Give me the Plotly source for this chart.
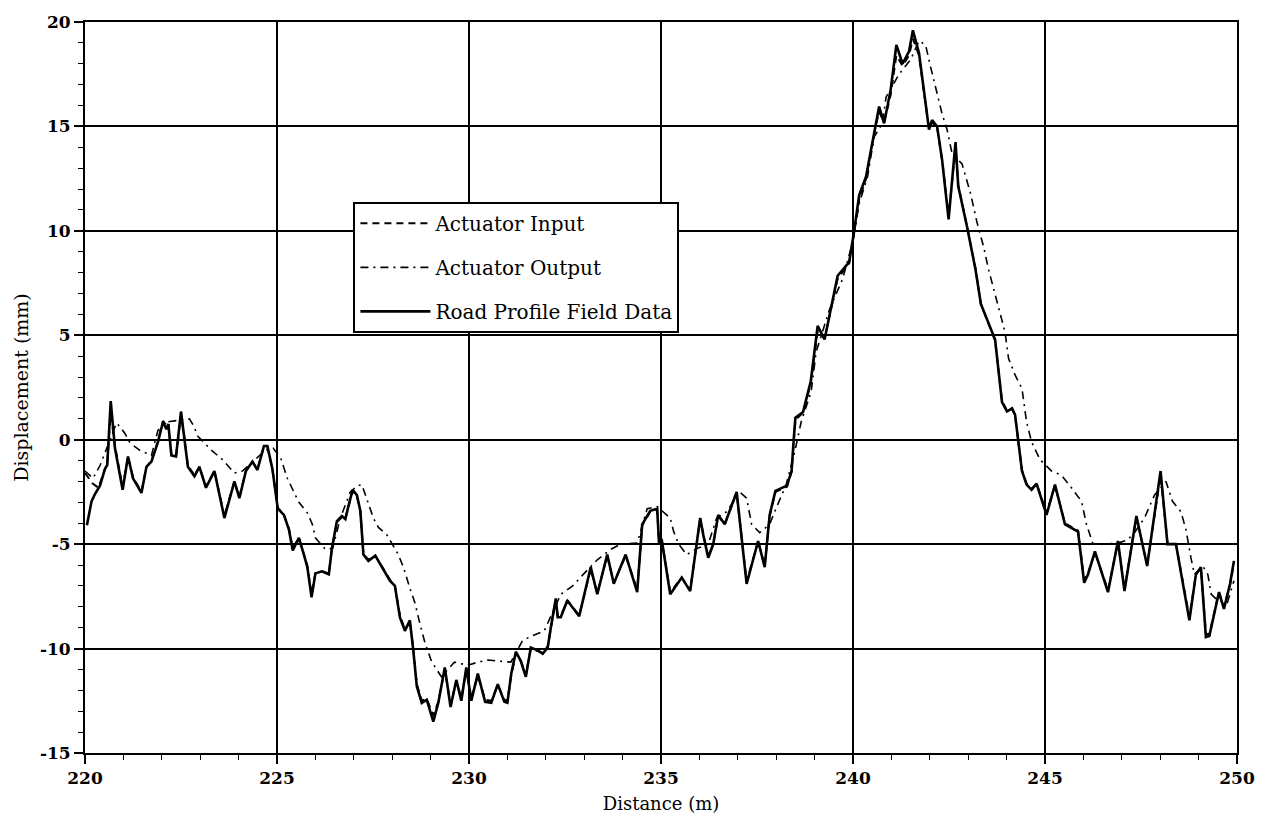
import plotly.graph_objects as go

# Road profile measured in the field (distance m, displacement mm)
road_x = [220.05, 220.17, 220.26, 220.39, 220.52, 220.58, 220.67, 220.73, 220.78, 220.98,
          221.12, 221.25, 221.47, 221.60, 221.73, 221.90, 222.03, 222.12, 222.17, 222.25,
          222.37, 222.50, 222.59, 222.68, 222.85, 222.98, 223.15, 223.37, 223.63, 223.89,
          224.02, 224.19, 224.36, 224.49, 224.66, 224.75, 224.88, 225.02, 225.18, 225.31,
          225.41, 225.57, 225.70, 225.79, 225.90, 226.00, 226.17, 226.35, 226.43, 226.56,
          226.69, 226.78, 226.87, 226.97, 227.08, 227.17, 227.25, 227.38, 227.56, 227.73,
          227.94, 228.07, 228.20, 228.33, 228.46, 228.55, 228.64, 228.77, 228.90, 229.07,
          229.20, 229.37, 229.52, 229.67, 229.80, 229.93, 230.06, 230.23, 230.42, 230.58,
          230.75, 230.92, 231.00, 231.10, 231.22, 231.35, 231.48, 231.61, 231.80, 231.92,
          232.05, 232.13, 232.26, 232.31, 232.39, 232.56, 232.87, 233.17, 233.34, 233.60,
          233.77, 234.08, 234.38, 234.51, 234.72, 234.90, 234.95, 235.02, 235.24, 235.54,
          235.76, 236.02, 236.10, 236.23, 236.36, 236.49, 236.66, 236.97, 237.23, 237.53,
          237.70, 237.83, 237.98, 238.28, 238.40, 238.46, 238.50, 238.70, 238.90, 239.08,
          239.26, 239.60, 239.90, 240.03, 240.16, 240.34, 240.60, 240.68, 240.81, 240.98,
          241.13, 241.29, 241.46, 241.56, 241.72, 241.85, 241.98, 242.06, 242.19, 242.32,
          242.49, 242.67, 242.74, 242.97, 243.19, 243.33, 243.53, 243.70, 243.88, 244.01,
          244.14, 244.22, 244.40, 244.52, 244.65, 244.78, 245.04, 245.26, 245.52, 245.86,
          246.02, 246.12, 246.30, 246.64, 246.90, 247.07, 247.38, 247.66, 248.01, 248.19,
          248.41, 248.76, 248.93, 249.06, 249.19, 249.28, 249.53, 249.66, 249.82, 249.92]
road_y = [-4.10, -2.95, -2.60, -2.20, -1.40, -1.20, 1.85, 0.40, -0.40, -2.40,
          -0.80, -1.85, -2.55, -1.30, -1.05, -0.10, 0.85, 0.50, 0.75, -0.75,
          -0.80, 1.35, 0.05, -1.30, -1.75, -1.30, -2.30, -1.50, -3.75, -2.00,
          -2.80, -1.50, -1.05, -1.45, -0.30, -0.30, -1.40, -3.30, -3.60, -4.30,
          -5.30, -4.70, -5.50, -6.10, -7.55, -6.40, -6.30, -6.45, -5.20, -3.90,
          -3.65, -3.80, -3.10, -2.40, -2.65, -3.40, -5.50, -5.80, -5.55, -6.10,
          -6.75, -7.00, -8.50, -9.15, -8.65, -10.10, -11.80, -12.60, -12.45, -13.50,
          -12.60, -10.90, -12.80, -11.50, -12.50, -10.90, -12.50, -11.20, -12.55, -12.60,
          -11.70, -12.55, -12.60, -11.20, -10.15, -10.60, -11.35, -9.95, -10.10, -10.25,
          -9.95, -9.00, -7.60, -8.50, -8.50, -7.70, -8.45, -6.10, -7.40, -5.50,
          -6.90, -5.50, -7.30, -4.05, -3.40, -3.30, -5.00, -4.80, -7.40, -6.60,
          -7.25, -3.75, -4.55, -5.65, -5.00, -3.60, -4.05, -2.50, -6.90, -4.85,
          -6.10, -3.60, -2.45, -2.20, -1.50, 0.10, 1.05, 1.33, 2.80, 5.45,
          4.80, 7.85, 8.50, 10.00, 11.70, 12.60, 15.30, 15.95, 15.15, 16.75,
          18.90, 18.00, 18.60, 19.60, 18.50, 16.55, 14.85, 15.30, 15.00, 13.40,
          10.55, 14.25, 12.15, 10.20, 8.15, 6.50, 5.60, 4.80, 1.80, 1.35,
          1.50, 1.20, -1.50, -2.15, -2.40, -2.10, -3.60, -2.15, -4.05, -4.40,
          -6.85, -6.45, -5.35, -7.30, -4.85, -7.25, -3.65, -6.05, -1.50, -5.00,
          -5.00, -8.65, -6.45, -6.10, -9.45, -9.40, -7.30, -8.10, -6.90, -5.80]

# Command signal sent to the actuator
input_x = [220.00, 220.20, 220.35, 220.52, 220.58, 220.67, 220.73, 220.78, 220.98,
           221.12, 221.25, 221.47, 221.60, 221.73, 221.90, 222.03, 222.12, 222.17, 222.25,
           222.37, 222.50, 222.59, 222.68, 222.85, 222.98, 223.15, 223.37, 223.63, 223.89,
           224.02, 224.19, 224.36, 224.49, 224.66, 224.75, 224.88, 225.02, 225.18, 225.31,
           225.41, 225.57, 225.70, 225.79, 225.90, 226.00, 226.17, 226.35, 226.43, 226.56,
           226.69, 226.78, 226.87, 226.97, 227.08, 227.17, 227.25, 227.38, 227.56, 227.73,
           227.94, 228.07, 228.20, 228.33, 228.46, 228.55, 228.64, 228.77, 228.90, 229.07,
           229.20, 229.37, 229.52, 229.67, 229.80, 229.93, 230.06, 230.23, 230.42, 230.58,
           230.75, 230.92, 231.00, 231.10, 231.22, 231.35, 231.48, 231.61, 231.80, 231.92,
           232.05, 232.13, 232.26, 232.31, 232.39, 232.56, 232.87, 233.17, 233.34, 233.60,
           233.77, 234.08, 234.38, 234.51, 234.72, 234.90, 234.95, 235.02, 235.24, 235.54,
           235.76, 236.02, 236.10, 236.23, 236.36, 236.49, 236.66, 236.97, 237.23, 237.53,
           237.70, 237.83, 237.98, 238.28, 238.40, 238.46, 238.50, 238.70, 238.90, 239.08,
           239.26, 239.60, 239.90, 240.03, 240.16, 240.34, 240.60, 240.68, 240.81, 240.98,
           241.13, 241.29, 241.46, 241.56, 241.72, 241.85, 241.98, 242.06, 242.19, 242.32,
           242.49, 242.67, 242.74, 242.97, 243.19, 243.33, 243.53, 243.70, 243.88, 244.01,
           244.14, 244.22, 244.40, 244.52, 244.65, 244.78, 245.04, 245.26, 245.52, 245.86,
           246.02, 246.12, 246.30, 246.64, 246.90, 247.07, 247.38, 247.66, 248.01, 248.19,
           248.41, 248.76, 248.93, 249.06, 249.19, 249.28, 249.53, 249.66, 249.82, 249.92]
input_y = [-1.60, -2.10, -2.30, -1.40, -1.20, 1.50, 0.40, -0.30, -2.30,
           -0.80, -1.80, -2.50, -1.30, -1.00, -0.10, 0.90, 0.70, 0.80, -0.70,
           -0.80, 1.20, 0.10, -1.25, -1.70, -1.30, -2.25, -1.50, -3.65, -2.00,
           -2.75, -1.50, -1.05, -1.40, -0.35, -0.35, -1.40, -3.25, -3.60, -4.25,
           -5.20, -4.70, -5.45, -6.05, -7.40, -6.40, -6.30, -6.40, -5.20, -3.95,
           -3.70, -3.80, -3.15, -2.45, -2.70, -3.40, -5.45, -5.75, -5.55, -6.05,
           -6.70, -7.00, -8.40, -9.10, -8.70, -10.00, -11.70, -12.50, -12.40, -13.20,
           -12.55, -11.00, -12.70, -11.55, -12.40, -11.00, -12.40, -11.30, -12.45, -12.50,
           -11.75, -12.45, -12.50, -11.30, -10.25, -10.60, -11.25, -10.00, -10.10, -10.20,
           -9.90, -9.05, -7.70, -8.45, -8.45, -7.70, -8.40, -6.20, -7.35, -5.55,
           -6.85, -5.55, -7.20, -4.10, -3.45, -3.35, -4.90, -4.80, -7.30, -6.60,
           -7.20, -3.80, -4.55, -5.60, -5.00, -3.65, -4.05, -2.55, -6.80, -4.85,
           -6.05, -3.65, -2.50, -2.25, -1.55, 0.05, 0.95, 1.30, 2.70, 5.20,
           4.85, 7.70, 8.45, 9.90, 11.50, 12.50, 15.10, 15.70, 15.20, 16.50,
           18.40, 17.90, 18.40, 19.20, 18.40, 16.60, 14.90, 15.20, 14.95, 13.40,
           10.70, 14.00, 12.20, 10.20, 8.20, 6.50, 5.60, 4.75, 1.85, 1.40,
           1.50, 1.15, -1.45, -2.10, -2.35, -2.10, -3.50, -2.20, -4.00, -4.35,
           -6.70, -6.40, -5.40, -7.20, -4.90, -7.15, -3.70, -6.00, -1.70, -4.95,
           -5.00, -8.50, -6.45, -6.15, -9.30, -9.30, -7.30, -8.00, -6.95, -5.90]

# Measured actuator response
output_x = [220.00, 220.21, 220.40, 220.60, 220.82, 220.92, 221.04, 221.17, 221.42, 221.73,
            221.90, 222.12, 222.30, 222.50, 222.72, 222.85, 222.92, 223.32, 223.58, 223.89,
            224.10, 224.40, 224.70, 224.90, 225.10, 225.27, 225.44, 225.57, 225.79, 225.92,
            226.00, 226.26, 226.45, 226.65, 226.91, 227.10, 227.21, 227.34, 227.51, 227.64,
            227.86, 228.16, 228.29, 228.46, 228.59, 228.72, 228.85, 229.02, 229.28, 229.62,
            229.97, 230.23, 230.49, 231.09, 231.40, 231.70, 231.96, 232.39, 232.70, 233.00,
            233.34, 233.69, 233.95, 234.38, 234.64, 234.90, 235.10, 235.24, 235.33, 235.46,
            235.67, 235.95, 236.23, 236.45, 236.71, 237.05, 237.23, 237.36, 237.57, 237.83,
            237.96, 238.26, 238.48, 238.65, 238.91, 239.04, 239.39, 239.73, 239.99, 240.16,
            240.38, 240.55, 240.77, 240.86, 241.20, 241.50, 241.72, 241.89, 242.02, 242.15,
            242.32, 242.45, 242.58, 242.84, 243.06, 243.23, 243.40, 243.53, 243.70, 243.96,
            244.05, 244.22, 244.40, 244.52, 244.65, 244.87, 245.17, 245.43, 245.69, 245.95,
            246.08, 246.25, 246.55, 246.90, 247.15, 247.33, 247.59, 247.85, 248.15, 248.32,
            248.54, 248.67, 248.80, 248.89, 249.11, 249.24, 249.33, 249.50, 249.75, 249.92]
output_y = [-1.50, -1.85, -1.20, -0.20, 0.80, 0.60, 0.30, -0.15, -0.50, -0.75,
            0.45, 0.85, 0.90, 0.95, 1.00, 0.60, 0.20, -0.55, -0.95, -1.60,
            -1.50, -1.00, -0.50, -0.40, -0.90, -1.85, -2.55, -3.00, -3.50, -4.05,
            -4.70, -5.25, -5.20, -3.75, -2.50, -2.20, -2.15, -2.80, -3.75, -4.20,
            -4.55, -5.50, -6.10, -7.10, -7.80, -8.80, -9.70, -10.60, -11.35, -10.65,
            -10.80, -10.65, -10.55, -10.65, -9.60, -9.35, -9.15, -7.40, -7.00, -6.40,
            -5.75, -5.25, -5.00, -4.95, -3.30, -3.20, -3.50, -3.75, -4.40, -5.00,
            -5.50, -5.20, -5.00, -3.75, -3.45, -2.50, -2.80, -4.05, -4.45, -4.05,
            -3.45, -2.15, -0.60, 0.85, 2.30, 4.20, 6.25, 7.70, 9.45, 11.30,
            12.60, 14.50, 15.15, 16.40, 17.50, 18.20, 19.10, 18.90, 17.85, 16.90,
            15.60, 14.85, 13.70, 13.20, 11.80, 10.40, 9.25, 8.15, 7.00, 5.15,
            3.90, 3.10, 2.45, 0.85, -0.10, -0.95, -1.50, -1.70, -2.30, -2.95,
            -4.05, -5.00, -5.00, -4.95, -4.80, -4.45, -3.75, -2.65, -2.00, -2.95,
            -3.45, -4.30, -5.65, -6.45, -6.05, -6.45, -7.40, -7.70, -7.80, -6.75]

# Axis tick values and their printed labels
x_ticks = [220, 225, 230, 235, 240, 245, 250]
x_labels = ["220", "225", "230", "235", "240", "245", "250"]
y_ticks = [-15, -10, -5, 0, 5, 10, 15, 20]
y_labels = ["-15", "-10", "-5", "0", "5", "10", "15", "20"]

SERIF = "DejaVu Serif"

fig = go.Figure()
fig.add_trace(go.Scatter(
    x=input_x, y=input_y, mode="lines", name="Actuator Input",
    legendgroup="a", line=dict(color="black", width=2, dash="7px,5px")))
fig.add_trace(go.Scatter(
    x=output_x, y=output_y, mode="lines", name="Actuator Output",
    legendgroup="b", line=dict(color="black", width=1.6, dash="8px,5px,2px,5px")))
fig.add_trace(go.Scatter(
    x=road_x, y=road_y, mode="lines", name="Road Profile Field Data",
    legendgroup="c", line=dict(color="black", width=2.6)))

axis_common = dict(
    showgrid=True, gridcolor="black", gridwidth=2.2,
    showline=True, linecolor="black", linewidth=2, mirror=True,
    zeroline=False, ticks="outside", tickcolor="black", tickwidth=1.5, ticklen=9,
    tickfont=dict(family=SERIF, size=17, color="black", weight="bold"),
)

fig.update_xaxes(
    range=[220, 250], tickmode="array", tickvals=x_ticks, ticktext=x_labels,
    minor=dict(ticks="outside", ticklen=5, tickcolor="black", tickwidth=1.2,
               tickmode="array", tickvals=list(range(220, 251)), showgrid=False),
    title=dict(text="Distance (m)", font=dict(family=SERIF, size=18, color="black"),
               standoff=10),
    **axis_common)
fig.update_yaxes(
    range=[-15, 20], tickmode="array", tickvals=y_ticks, ticktext=y_labels,
    minor=dict(ticks="outside", ticklen=5, tickcolor="black", tickwidth=1.2,
               tickmode="array", tickvals=list(range(-15, 21)), showgrid=False),
    title=dict(text="Displacement (mm)", font=dict(family=SERIF, size=19, color="black"),
               standoff=6),
    **axis_common)

fig.update_layout(
    width=1267, height=827,
    margin=dict(l=85, r=24, t=17, b=74),
    paper_bgcolor="white", plot_bgcolor="white",
    showlegend=True,
    legend=dict(
        x=0.233, y=0.754, xanchor="left", yanchor="top",
        bgcolor="white", bordercolor="black", borderwidth=2,
        font=dict(family=SERIF, size=20, color="black"),
        itemwidth=70, tracegroupgap=15, traceorder="grouped",
    ),
)

fig.write_html("out.html")
